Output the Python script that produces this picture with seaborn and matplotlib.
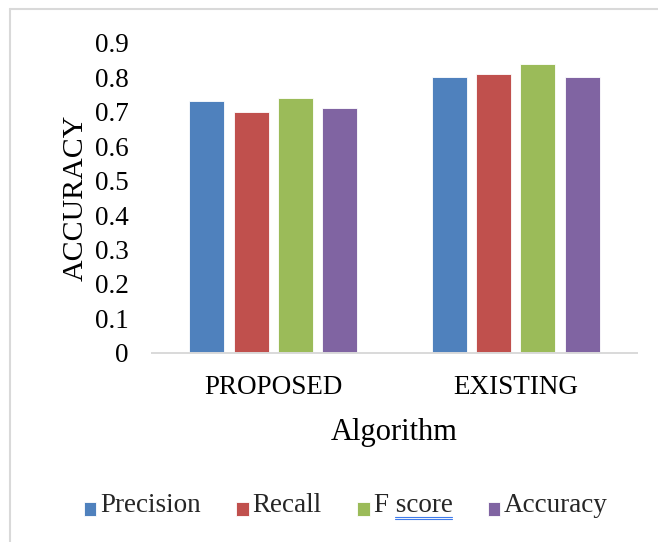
import matplotlib
matplotlib.use("Agg")
import matplotlib.pyplot as plt
import seaborn as sns
import pandas as pd
from matplotlib.lines import Line2D

# === Data ===
algorithms = ["PROPOSED", "EXISTING"]
metrics = ["Precision", "Recall", "F score", "Accuracy"]
precision = [0.73, 0.80]
recall = [0.70, 0.81]
f_score = [0.74, 0.84]
accuracy = [0.71, 0.80]
colors = ["#4F81BD", "#C0504D", "#9BBB59", "#8064A2"]
yticks = [0, 0.1, 0.2, 0.3, 0.4, 0.5, 0.6, 0.7, 0.8, 0.9]
ytick_labels = ["0", "0.1", "0.2", "0.3", "0.4", "0.5", "0.6", "0.7", "0.8", "0.9"]

df = pd.DataFrame({
    "Algorithm": algorithms * 4,
    "Metric": [m for m in metrics for _ in algorithms],
    "Value": precision + recall + f_score + accuracy,
})

# === Style ===
sns.set_theme(style="white")
plt.rcParams["font.family"] = ["Liberation Serif", "DejaVu Serif"]

W, H = 658, 542
fig = plt.figure(figsize=(W / 100, H / 100), dpi=100)
ax = fig.add_axes([152 / W, 1 - 352.7 / H, 485 / W, 309.7 / H])

sns.barplot(data=df, x="Algorithm", y="Value", hue="Metric", order=algorithms,
            hue_order=metrics, palette=colors, saturation=1, width=0.73, gap=0.21,
            edgecolor="white", linewidth=0.6, ax=ax)

ax.set_ylim(0, 0.9)
ax.set_xlim(-0.5, 1.5)
ax.set_yticks(yticks)
ax.set_yticklabels(ytick_labels)
ax.tick_params(axis="both", length=0, labelsize=19.5, colors="black")
ax.tick_params(axis="y", pad=17)
ax.tick_params(axis="x", pad=16)
for side in ["top", "right", "left"]:
    ax.spines[side].set_visible(False)
ax.spines["bottom"].set_color("#D9D9D9")
ax.spines["bottom"].set_linewidth(1.4)

ax.set_xlabel("Algorithm", fontsize=22, labelpad=13, color="black")
ax.set_ylabel("ACCURACY", fontsize=21.5, labelpad=4, color="black")

# Legend along the bottom
sns.move_legend(ax, "center", bbox_to_anchor=(346 / W, 1 - 506 / H),
                bbox_transform=fig.transFigure, ncol=4, frameon=False, title=None,
                fontsize=19.5, handlelength=0.46, handleheight=0.46,
                handletextpad=0.15, columnspacing=1.3)
# drop the small squares to sit on the text baseline, like the original
for p in ax.get_legend().get_patches():
    p.set_y(p.get_y() - 4.5)

# Chart frame (top and left edge visible)
frame_kw = dict(color="#D9D9D9", linewidth=1.5, transform=fig.transFigure)
fig.add_artist(Line2D([10 / W, 1], [1 - 9 / H, 1 - 9 / H], **frame_kw))
fig.add_artist(Line2D([10 / W, 10 / W], [0, 1 - 9 / H], **frame_kw))

# Spell-check double underline under "score"
fig.canvas.draw()
renderer = fig.canvas.get_renderer()
for t in ax.get_legend().get_texts():
    if t.get_text() == "F score":
        bb = t.get_window_extent(renderer)
        x0 = bb.x0 + bb.width * 0.276
        for dy in (1.5, -0.7):
            y = (bb.y0 + dy) / H
            fig.add_artist(Line2D([x0 / W, bb.x1 / W], [y, y], color="#3F7BEA",
                                  linewidth=0.8, transform=fig.transFigure))

fig.savefig("out.png", dpi=100)
plt.close(fig)
